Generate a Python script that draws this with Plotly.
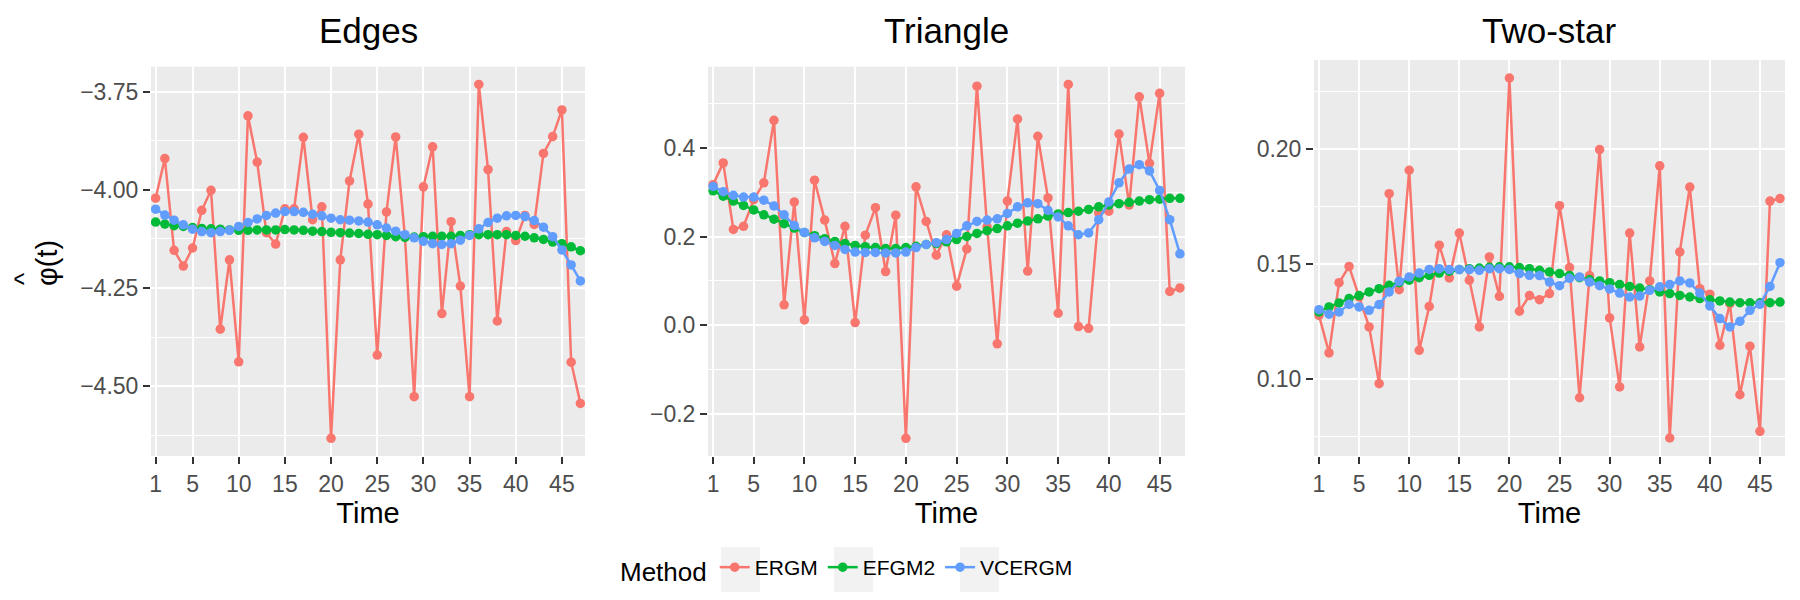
import plotly.graph_objects as go

time = list(range(1, 48))
methods = ["ERGM", "EFGM2", "VCERGM"]
colors = {"ERGM": "#F8766D", "EFGM2": "#00BA38", "VCERGM": "#619CFF"}
panel_titles = ["Edges", "Triangle", "Two-star"]

edges_ergm = [-4.021, -3.920, -4.154, -4.194, -4.148, -4.052, -4.001, -4.355, -4.178, -4.438,
              -3.811, -3.929, -4.109, -4.138, -4.048, -4.048, -3.866, -4.076, -4.043, -4.633,
              -4.178, -3.977, -3.858, -4.036, -4.421, -4.056, -3.865, -4.119, -4.527, -3.992,
              -3.890, -4.315, -4.081, -4.245, -4.527, -3.731, -3.948, -4.334, -4.106, -4.129,
              -4.065, -4.088, -3.907, -3.864, -3.796, -4.439, -4.544]
edges_efgm2 = [-4.082, -4.087, -4.091, -4.093, -4.096, -4.098, -4.099, -4.100, -4.102, -4.103,
               -4.103, -4.102, -4.102, -4.102, -4.101, -4.102, -4.103, -4.105, -4.106, -4.108,
               -4.109, -4.110, -4.111, -4.113, -4.114, -4.116, -4.119, -4.121, -4.120, -4.119,
               -4.118, -4.118, -4.118, -4.116, -4.114, -4.114, -4.114, -4.114, -4.114, -4.116,
               -4.118, -4.122, -4.126, -4.133, -4.137, -4.145, -4.155]
edges_vcergm = [-4.049, -4.064, -4.077, -4.089, -4.100, -4.106, -4.109, -4.106, -4.103, -4.093,
                -4.083, -4.074, -4.065, -4.059, -4.055, -4.055, -4.057, -4.062, -4.066, -4.072,
                -4.076, -4.077, -4.079, -4.082, -4.089, -4.097, -4.105, -4.114, -4.122, -4.131,
                -4.137, -4.139, -4.137, -4.128, -4.116, -4.099, -4.083, -4.072, -4.066, -4.065,
                -4.068, -4.078, -4.095, -4.119, -4.153, -4.191, -4.232]

tri_ergm = [0.317, 0.366, 0.216, 0.223, 0.283, 0.321, 0.462, 0.046, 0.278, 0.012,
            0.327, 0.237, 0.139, 0.223, 0.006, 0.203, 0.265, 0.121, 0.248, -0.255,
            0.312, 0.234, 0.158, 0.204, 0.088, 0.172, 0.539, 0.222, -0.042, 0.280,
            0.465, 0.122, 0.426, 0.287, 0.027, 0.543, -0.003, -0.007, 0.253, 0.257,
            0.431, 0.271, 0.515, 0.365, 0.523, 0.076, 0.084]
tri_efgm2 = [0.303, 0.291, 0.280, 0.270, 0.260, 0.249, 0.239, 0.229, 0.219, 0.209,
             0.202, 0.195, 0.189, 0.184, 0.180, 0.177, 0.175, 0.173, 0.173, 0.175,
             0.178, 0.182, 0.184, 0.188, 0.193, 0.200, 0.207, 0.213, 0.218, 0.224,
             0.230, 0.235, 0.240, 0.246, 0.251, 0.254, 0.257, 0.261, 0.267, 0.271,
             0.274, 0.277, 0.280, 0.283, 0.284, 0.286, 0.286]
tri_vcergm = [0.313, 0.301, 0.293, 0.289, 0.289, 0.282, 0.269, 0.249, 0.225, 0.209,
              0.197, 0.189, 0.180, 0.171, 0.165, 0.164, 0.164, 0.163, 0.163, 0.165,
              0.175, 0.182, 0.186, 0.193, 0.207, 0.224, 0.234, 0.237, 0.240, 0.252,
              0.267, 0.276, 0.274, 0.259, 0.244, 0.224, 0.204, 0.208, 0.238, 0.278,
              0.321, 0.352, 0.362, 0.348, 0.304, 0.238, 0.161]

star_ergm = [0.1275, 0.1112, 0.1417, 0.1488, 0.1355, 0.1225, 0.0978, 0.1804, 0.1387, 0.1906,
             0.1123, 0.1314, 0.1580, 0.1438, 0.1633, 0.1428, 0.1225, 0.1529, 0.1358, 0.2307,
             0.1293, 0.1361, 0.1343, 0.1370, 0.1752, 0.1483, 0.0917, 0.1448, 0.1996, 0.1264,
             0.0964, 0.1633, 0.1138, 0.1425, 0.1925, 0.0742, 0.1551, 0.1833, 0.1391, 0.1367,
             0.1145, 0.1326, 0.0930, 0.1141, 0.0771, 0.1772, 0.1783]
star_efgm2 = [0.1290, 0.1312, 0.1329, 0.1348, 0.1361, 0.1377, 0.1391, 0.1406, 0.1417, 0.1428,
              0.1439, 0.1449, 0.1459, 0.1467, 0.1474, 0.1478, 0.1481, 0.1484, 0.1486, 0.1486,
              0.1483, 0.1478, 0.1471, 0.1464, 0.1457, 0.1448, 0.1439, 0.1430, 0.1425, 0.1417,
              0.1409, 0.1401, 0.1394, 0.1387, 0.1377, 0.1370, 0.1362, 0.1355, 0.1348, 0.1343,
              0.1338, 0.1333, 0.1330, 0.1330, 0.1330, 0.1330, 0.1333]
star_vcergm = [0.1300, 0.1280, 0.1290, 0.1323, 0.1312, 0.1297, 0.1322, 0.1377, 0.1423, 0.1442,
               0.1459, 0.1475, 0.1478, 0.1474, 0.1474, 0.1474, 0.1471, 0.1478, 0.1478, 0.1475,
               0.1457, 0.1449, 0.1448, 0.1420, 0.1404, 0.1436, 0.1442, 0.1420, 0.1404, 0.1390,
               0.1372, 0.1355, 0.1359, 0.1384, 0.1399, 0.1409, 0.1425, 0.1416, 0.1372, 0.1316,
               0.1261, 0.1225, 0.1249, 0.1297, 0.1323, 0.1401, 0.1504]

x_tickvals = [1, 5, 10, 15, 20, 25, 30, 35, 40, 45]
x_ticktext = ["1", "5", "10", "15", "20", "25", "30", "35", "40", "45"]

y_tickvals = [[-3.75, -4.00, -4.25, -4.50], [-0.2, 0.0, 0.2, 0.4], [0.10, 0.15, 0.20]]
y_ticktext = [["\u22123.75", "\u22124.00", "\u22124.25", "\u22124.50"],
              ["\u22120.2", "0.0", "0.2", "0.4"],
              ["0.10", "0.15", "0.20"]]
y_minor_step = [0.125, 0.1, 0.025]
y_minor_start = [-3.625, 0.1, 0.075]

panel_data = [
    {"ERGM": edges_ergm, "EFGM2": edges_efgm2, "VCERGM": edges_vcergm},
    {"ERGM": tri_ergm, "EFGM2": tri_efgm2, "VCERGM": tri_vcergm},
    {"ERGM": star_ergm, "EFGM2": star_efgm2, "VCERGM": star_vcergm},
]

W, H = 1800, 600
x_domains = [(151, 585), (708, 1185), (1314, 1785)]
y_domains = [(66.7, 456), (66.7, 456), (60, 456)]

FONT = "Liberation Sans, Arial, Helvetica, sans-serif"
fig = go.Figure()

for i, data in enumerate(panel_data):
    sfx = "" if i == 0 else str(i + 1)
    for m in methods:
        fig.add_trace(go.Scatter(
            x=time, y=data[m], mode="lines+markers", name=m,
            legendgroup=m, showlegend=(i == 0),
            line=dict(color=colors[m], width=2.5),
            marker=dict(color=colors[m], size=9.5),
            xaxis="x" + sfx, yaxis="y" + sfx,
        ))

layout = dict(
    width=W, height=H,
    margin=dict(l=0, r=0, t=0, b=0),
    paper_bgcolor="white",
    plot_bgcolor="#EBEBEB",
    font=dict(family=FONT, color="black"),
    showlegend=True,
    legend=dict(
        orientation="h", x=618 / W, xanchor="left", y=1 - 569 / H, yanchor="middle",
        title=dict(text="Method", font=dict(size=26, color="black"), side="left"),
        font=dict(size=21, color="black"),
        bgcolor="rgba(0,0,0,0)",
    ),
    annotations=[],
    shapes=[],
)

for i in range(3):
    sfx = "" if i == 0 else str(i + 1)
    x0, x1 = x_domains[i]
    y0, y1 = y_domains[i]
    data_all = sum(panel_data[i].values(), [])
    lo, hi = min(data_all), max(data_all)
    pad = 0.05 * (hi - lo)
    layout["xaxis" + sfx] = dict(
        domain=[x0 / W, x1 / W], anchor="y" + sfx,
        range=[0.5, 47.5],
        tickvals=x_tickvals, ticktext=x_ticktext,
        ticks="outside", ticklen=7, tickwidth=2.4, tickcolor="#333333",
        tickfont=dict(size=23, color="#4D4D4D", family=FONT),
        showgrid=True, gridcolor="white", gridwidth=2.4,
        zeroline=False, showline=False, automargin=False,
        title=dict(text="Time", font=dict(size=29, color="black", family=FONT), standoff=6),
    )
    layout["yaxis" + sfx] = dict(
        domain=[1 - y1 / H, 1 - y0 / H], anchor="x" + sfx,
        range=[lo - pad, hi + pad],
        tickvals=y_tickvals[i], ticktext=y_ticktext[i],
        ticks="outside", ticklen=7, tickwidth=2.4, tickcolor="#333333",
        tickfont=dict(size=23, color="#4D4D4D", family=FONT),
        showgrid=True, gridcolor="white", gridwidth=2.4,
        minor=dict(tick0=y_minor_start[i], dtick=y_minor_step[i], showgrid=True,
                   gridcolor="white", gridwidth=1.2, ticks=""),
        zeroline=False, showline=False, automargin=False,
    )
    layout["annotations"].append(dict(
        text=panel_titles[i], x=(x0 + x1) / 2 / W, y=1 - 30 / H,
        xref="paper", yref="paper", xanchor="center", yanchor="middle",
        showarrow=False, font=dict(size=35, color="black", family=FONT),
    ))

# y-axis label: phi-hat(t), drawn as phi(t) with a hat above the phi (rotated)
layout["annotations"].append(dict(
    text="φ(t)", x=47 / W, y=1 - 263 / H, xref="paper", yref="paper",
    xanchor="center", yanchor="middle", textangle=-90, showarrow=False,
    font=dict(size=29, color="black", family=FONT),
))
layout["annotations"].append(dict(
    text="^", x=24 / W, y=1 - 279 / H, xref="paper", yref="paper",
    xanchor="center", yanchor="middle", textangle=-90, showarrow=False,
    font=dict(size=26, color="black", family=FONT),
))

# light grey legend key backgrounds (ggplot style)
for bx in [(721, 760), (834, 873), (960, 999)]:
    layout["shapes"].append(dict(
        type="rect", xref="paper", yref="paper",
        x0=bx[0] / W, x1=bx[1] / W, y0=1 - 592 / H, y1=1 - 547 / H,
        fillcolor="#F2F2F2", line=dict(width=0), layer="below",
    ))

fig.update_layout(**layout)
fig.write_html("out.html")
